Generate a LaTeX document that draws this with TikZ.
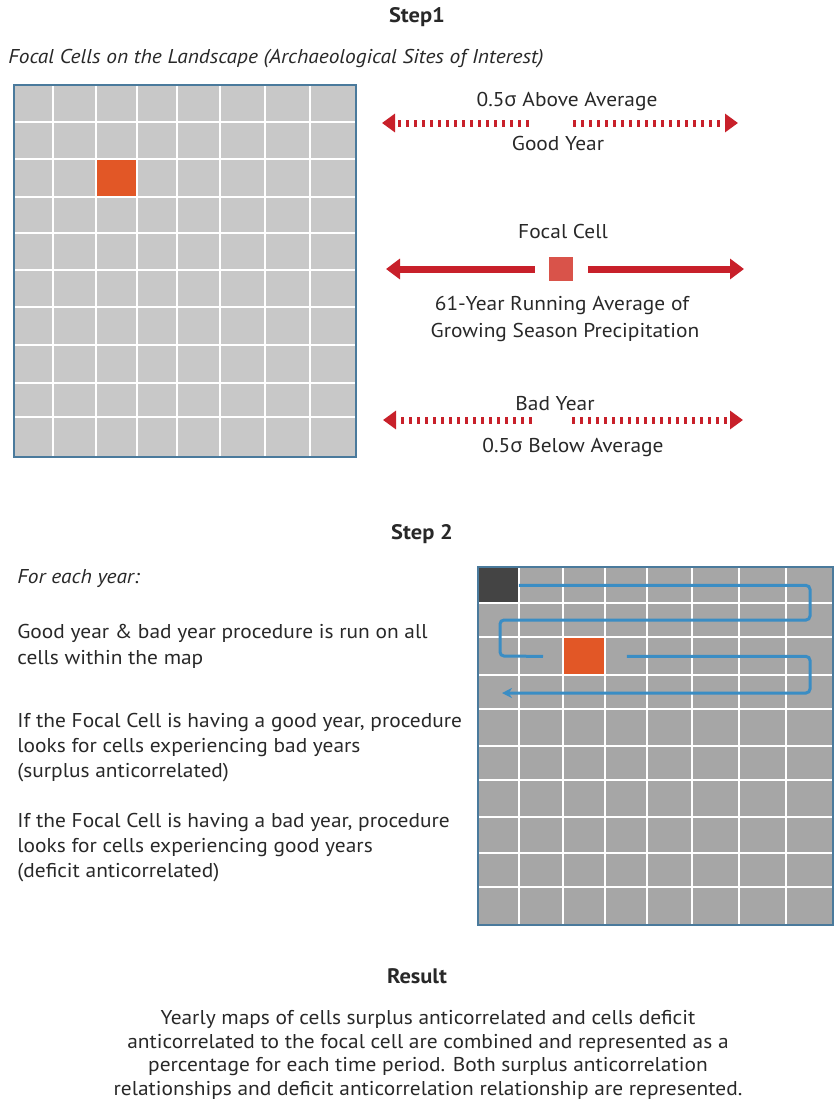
\documentclass[tikz,border=0pt]{standalone}
\usepackage{fontspec}
\setmainfont{PT Sans}[FakeStretch=1.07]
\newfontfamily\grk{Noto Sans}
\usetikzlibrary{arrows.meta}
\definecolor{arrowred}{RGB}{200,32,42}
\definecolor{focalred}{RGB}{217,83,74}
\definecolor{cellorange}{RGB}{226,87,38}
\definecolor{gridgrey}{RGB}{200,200,200}
\definecolor{mapgrey}{RGB}{166,166,166}
\definecolor{frameblue}{RGB}{74,122,156}
\definecolor{pathblue}{RGB}{58,141,196}
\definecolor{darkcell}{RGB}{68,68,68}
\definecolor{textgrey}{RGB}{40,40,40}

\begin{document}
\begin{tikzpicture}[x=0.5pt,y=-0.5pt,
  txt/.style={font=\fontsize{10}{12.75}\selectfont,text=textgrey,inner sep=0pt},
  head/.style={txt,font=\fontsize{10.5}{12}\selectfont\bfseries},
  cellbox/.style={inner sep=0pt,anchor=north west},
  solidarrow/.style={arrowred,line width=3.5pt,-{Triangle[length=7pt,width=10pt]}},
  dotarrow/.style={arrowred,line width=3.5pt,dash pattern=on 1.6pt off 2.4pt,-{Triangle[length=6.5pt,width=9pt]}},
  scanpath/.style={pathblue,line width=1.5pt,rounded corners=2pt}
]
  \useasboundingbox (0,0) rectangle (837,1103);

  % Step 1
  \node[head,anchor=base] (step1) at (417,23) {Step1};
  \node[txt,anchor=base west] (landscape) at (8,63) {\itshape Focal Cells on the Landscape (Archaeological Sites of Interest)};

  % Landscape map
  \fill[gridgrey] (14,85) rectangle (356,457);
  \foreach \c in {53,96,137,177,220,265,310}
    \draw[white,line width=1pt] (\c,85) -- (\c,457);
  \foreach \r in {122,159,197,233,270,307,345,383,417}
    \draw[white,line width=1pt] (14,\r) -- (356,\r);
  \node[cellbox,fill=cellorange,minimum width=19.5pt,minimum height=18pt] (focal1) at (97,160) {};
  \draw[frameblue,line width=0.75pt] (14,85) rectangle (356,457);

  % Good year
  \coordinate (goodL) at (382,123);
  \coordinate (goodM) at (551,123);
  \coordinate (goodR) at (738,123);
  \draw[dotarrow] ([xshift=-11pt]goodM) -- (goodL);
  \draw[dotarrow] ([xshift=11pt]goodM) -- (goodR);
  \node[txt,anchor=base] (above) at (567,106) {0.5{\grk σ} Above Average};
  \node[txt,anchor=base] (good) at (558,150) {Good Year};

  % Focal cell and running average
  \node[fill=focalred,minimum size=12pt,inner sep=0pt] (fc) at (561,269) {};
  \coordinate (fcL) at (386,269);
  \coordinate (fcR) at (744,269);
  \draw[solidarrow] ([xshift=-7pt]fc.west) -- (fcL);
  \draw[solidarrow] ([xshift=7.5pt]fc.east) -- (fcR);
  \node[txt,anchor=base] (fclabel) at (563,238) {Focal Cell};
  \node[txt,anchor=base] (avg1) at (562,310) {61-Year Running Average of};
  \node[txt,anchor=base] (avg2) at (565,337) {Growing Season Precipitation};

  % Bad year
  \coordinate (badL) at (383,420);
  \coordinate (badM) at (552,420);
  \coordinate (badR) at (743,420);
  \draw[dotarrow] ([xshift=-10pt]badM) -- (badL);
  \draw[dotarrow] ([xshift=10pt]badM) -- (badR);
  \node[txt,anchor=base] (bad) at (555,410) {Bad Year};
  \node[txt,anchor=base] (below) at (573,452) {0.5{\grk σ} Below Average};

  % Step 2
  \node[head,anchor=base] (step2) at (422,539) {Step 2};
  \foreach \y/\t [count=\i] in {583/{\itshape For each year:},
      638/{Good year \& bad year procedure is run on all},
      664/{cells within the map},
      727/{If the Focal Cell is having a good year, procedure},
      752/{looks for cells experiencing bad years},
      777/{(surplus anticorrelated)},
      827/{If the Focal Cell is having a bad year, procedure},
      852/{looks for cells experiencing good years},
      877/{(deficit anticorrelated)}}
    \node[txt,anchor=base west] (rule\i) at (17,\y) {\t};

  % Step 2 map
  \fill[mapgrey] (478,567) rectangle (833,925);
  \foreach \c in {519,563,605,647,692,739,786}
    \draw[white,line width=1pt] (\c,567) -- (\c,925);
  \foreach \r in {603,637,675,709,746,780,817,853,887}
    \draw[white,line width=1pt] (478,\r) -- (833,\r);
  \draw[frameblue,line width=0.75pt] (478,567) rectangle (833,925);
  \node[cellbox,fill=darkcell,minimum width=19.5pt,minimum height=17pt] (start) at (479,568) {};
  \node[cellbox,fill=cellorange,minimum width=20pt,minimum height=18pt] (focal2) at (564,638) {};

  % Scan order
  \coordinate (scanend) at (502,693);
  \draw[scanpath] (start.east) -| (810,620) -| (500,656) -- ([xshift=-10.5pt]focal2.west);
  \draw[scanpath,-{Stealth[length=5pt,width=5pt]}] ([xshift=11pt]focal2.east) -| (810,693) -- (scanend);

  % Result
  \node[head,anchor=base] (result) at (417,983) {Result};
  \foreach \y/\t [count=\i] in {1024/{Yearly maps of cells surplus anticorrelated and cells deficit},
      1048/{anticorrelated to the focal cell are combined and represented as a},
      1071/{percentage for each time period. Both surplus anticorrelation},
      1095/{relationships and deficit anticorrelation relationship are represented.}}
    \node[txt,anchor=base] (res\i) at (428,\y) {\t};
\end{tikzpicture}
\end{document}
